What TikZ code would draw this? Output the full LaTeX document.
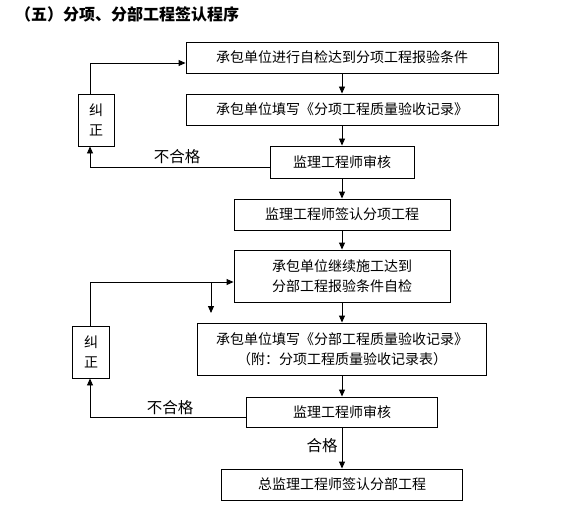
\documentclass[tikz,border=0pt]{standalone}
\usepackage{fontspec}
\newfontfamily\cjk{Noto Sans CJK SC}
\usetikzlibrary{arrows.meta}
\tikzset{
  box/.style={draw, line width=0.9pt, inner sep=0pt, align=center, font=\cjk\fontsize{14pt}{20pt}\selectfont},
  lbl/.style={inner sep=0pt, font=\cjk\fontsize{15.5pt}{20pt}\selectfont},
  arr/.style={line width=0.9pt, -{Triangle[length=7pt,width=6pt]}},
  ln/.style={line width=0.9pt}
}
\begin{document}
\begin{tikzpicture}[x=1pt,y=-1pt]
\useasboundingbox (0,0) rectangle (562,508);
\node[anchor=west, inner sep=0pt, font=\cjk\bfseries\fontsize{16pt}{18pt}\selectfont] (title) at (15,14) {（五）分项、分部工程签认程序};
% main column
\node[box, minimum width=312pt, minimum height=31pt] (b1) at (342,57.5) {承包单位进行自检达到分项工程报验条件};
\node[box, minimum width=312pt, minimum height=31pt] (b2) at (342,109.5) {承包单位填写《分项工程质量验收记录》};
\node[box, minimum width=144pt, minimum height=32pt] (s1) at (342,162) {监理工程师审核};
\node[box, minimum width=216pt, minimum height=31pt] (b4) at (342,214.5) {监理工程师签认分项工程};
\node[box, minimum width=216pt, minimum height=52pt] (b5) at (342,276) {承包单位继续施工达到\\分部工程报验条件自检};
\node[box, minimum width=289pt, minimum height=52pt] (b6) at (342,349) {承包单位填写《分部工程质量验收记录》\\（附：分项工程质量验收记录表）};
\node[box, minimum width=191pt, minimum height=30pt] (s2) at (342,412) {监理工程师审核};
\node[box, minimum width=241pt, minimum height=31pt] (b8) at (342,484.5) {总监理工程师签认分部工程};
% correction boxes
\node[box, minimum width=36pt, minimum height=52pt] (j1) at (96,120) {纠\\正};
\node[box, minimum width=37pt, minimum height=52pt] (j2) at (91,352) {纠\\正};
% helper coordinates
\coordinate (L1) at (90,0);
\coordinate (a1) at ([yshift=-5.5pt]b1.west);
\coordinate (a2) at ([yshift=-6pt]b5.west);
\coordinate (br) at (211,313);
% vertical flow
\draw[arr] (b1) -- (b2);
\draw[arr] (b2) -- (s1);
\draw[arr] (s1) -- (b4);
\draw[arr] (b4) -- (b5);
\draw[arr] (b5) -- (b6);
\draw[arr] (b6) -- (s2);
\draw[arr] (s2) -- node[lbl, left=4pt, pos=0.45] (ok) {合格} (b8);
% loop 1
\draw[arr] (j1.north -| L1) |- (a1);
\draw[arr] ([yshift=-5pt]s1.west) -| (j1.south -| L1);
\node[lbl] (ng1) at (177,157) {不合格};
% loop 2
\draw[arr] (j2.north -| L1) |- (a2);
\draw[arr] (br |- a2) -- (br);
\draw[arr] ([yshift=-5pt]s2.west) -| (j2.south -| L1);
\node[lbl] (ng2) at (170,408) {不合格};
\end{tikzpicture}
\end{document}
